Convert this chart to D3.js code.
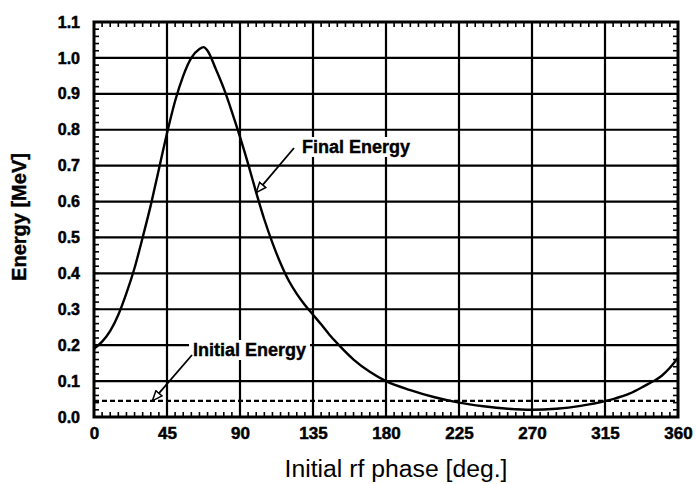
<!DOCTYPE html>
<html>
<head>
<meta charset="utf-8">
<script src="https://cdn.jsdelivr.net/npm/d3@7"></script>
<style>
  body { margin: 0; background: #fff; }
  svg { display: block; font-family: "Liberation Sans", Arial, sans-serif; }
</style>
</head>
<body>
<div id="chart"></div>
<script>
// phase in degrees and final energy in MeV
var phase = [0, 5, 10, 15, 20, 25, 30, 35, 40, 45, 50, 55, 60, 65, 67.5, 70, 75, 80, 85, 90,
             95, 100, 105, 110, 115, 120, 125, 130, 135, 140, 145, 150, 160, 170, 180, 195, 210, 225,
             240, 255, 270, 285, 300, 315, 320, 330, 340, 345, 350, 355, 360]
var finalEnergy = [0.19, 0.21, 0.24, 0.285, 0.345, 0.415, 0.5, 0.59, 0.69, 0.79, 0.88, 0.95, 1.0, 1.025, 1.03, 1.02,
                   0.97, 0.915, 0.85, 0.78, 0.705, 0.625, 0.55, 0.485, 0.428, 0.38, 0.343, 0.312, 0.285, 0.258,
                   0.23, 0.205, 0.16, 0.126, 0.1, 0.075, 0.055, 0.04, 0.03, 0.023, 0.02, 0.023, 0.031, 0.044,
                   0.05, 0.065, 0.088, 0.1, 0.115, 0.137, 0.165]
var initialEnergy = 0.045

var xTicks = [0, 45, 90, 135, 180, 225, 270, 315, 360]
var yTicks = [0, 0.1, 0.2, 0.3, 0.4, 0.5, 0.6, 0.7, 0.8, 0.9, 1.0, 1.1]

var width = 696
var height = 484

var x = d3.scaleLinear().domain([0, 360]).range([94, 678])
var y = d3.scaleLinear().domain([0, 1.1]).range([417, 22])

var svg = d3.select("#chart").append("svg")
    .attr("width", width)
    .attr("height", height)

// grid
svg.append("g").selectAll("line")
    .data(yTicks.slice(1, -1))
    .join("line")
    .attr("x1", x(0)).attr("x2", x(360))
    .attr("y1", d => y(d)).attr("y2", d => y(d))
    .attr("stroke", "#000").attr("stroke-width", 2.2)
svg.append("g").selectAll("line")
    .data(xTicks.slice(1, -1))
    .join("line")
    .attr("y1", y(0)).attr("y2", y(1.1))
    .attr("x1", d => x(d)).attr("x2", d => x(d))
    .attr("stroke", "#000").attr("stroke-width", 2.2)

// initial energy, dashed
svg.append("line")
    .attr("x1", x(0)).attr("x2", x(360))
    .attr("y1", y(initialEnergy)).attr("y2", y(initialEnergy))
    .attr("stroke", "#000").attr("stroke-width", 2.4)
    .attr("stroke-dasharray", "5,3")

// final energy curve
var line = d3.line()
    .x((d, i) => x(phase[i]))
    .y(d => y(d))
    .curve(d3.curveMonotoneX)
svg.append("path")
    .datum(finalEnergy)
    .attr("d", line)
    .attr("fill", "none")
    .attr("stroke", "#000")
    .attr("stroke-width", 2.4)

// frame
svg.append("rect")
    .attr("x", x(0)).attr("y", y(1.1))
    .attr("width", x(360) - x(0)).attr("height", y(0) - y(1.1))
    .attr("fill", "none").attr("stroke", "#000").attr("stroke-width", 3)

// minor ticks inside the frame
var minorX = d3.range(0, 361, 5)
var minorY = d3.range(0, 111, 2).map(d => d / 100)
var ticks = svg.append("g").attr("stroke", "#000").attr("stroke-width", 1.6)
ticks.selectAll(".tb").data(minorX).join("line").attr("class", "tb")
    .attr("x1", d => x(d)).attr("x2", d => x(d))
    .attr("y1", y(1.1)).attr("y2", y(1.1) + 5)
ticks.selectAll(".bt").data(minorX).join("line").attr("class", "bt")
    .attr("x1", d => x(d)).attr("x2", d => x(d))
    .attr("y1", y(0)).attr("y2", y(0) - 5)
ticks.selectAll(".lt").data(minorY).join("line").attr("class", "lt")
    .attr("y1", d => y(d)).attr("y2", d => y(d))
    .attr("x1", x(0)).attr("x2", x(0) + 5)
ticks.selectAll(".rt").data(minorY).join("line").attr("class", "rt")
    .attr("y1", d => y(d)).attr("y2", d => y(d))
    .attr("x1", x(360)).attr("x2", x(360) - 5)

// tick labels
var xAxis = svg.append("g")
    .attr("transform", "translate(0," + 424 + ")")
    .call(d3.axisBottom(x).tickValues(xTicks).tickSize(0).tickFormat(d3.format("d")))
xAxis.select(".domain").remove()
xAxis.selectAll("text")
    .attr("font-family", "'Liberation Sans', Arial, sans-serif")
    .attr("font-size", 17).attr("font-weight", "bold").attr("fill", "#000")
    .attr("stroke", "#000").attr("stroke-width", 0.5)

var yAxis = svg.append("g")
    .attr("transform", "translate(" + 83 + ",0)")
    .call(d3.axisLeft(y).tickValues(yTicks).tickSize(0).tickFormat(d3.format(".1f")))
yAxis.select(".domain").remove()
yAxis.selectAll("text")
    .attr("font-family", "'Liberation Sans', Arial, sans-serif")
    .attr("font-size", 16).attr("font-weight", "bold").attr("fill", "#000")
    .attr("stroke", "#000").attr("stroke-width", 0.5)

// axis titles
svg.append("text")
    .attr("x", 396).attr("y", 477)
    .attr("text-anchor", "middle")
    .attr("font-size", 23)
    .attr("textLength", 223).attr("lengthAdjust", "spacingAndGlyphs")
    .text("Initial rf phase [deg.]")
svg.append("text")
    .attr("transform", "translate(26,217) rotate(-90)")
    .attr("text-anchor", "middle")
    .attr("font-size", 20).attr("font-weight", "bold")
    .attr("stroke", "#000").attr("stroke-width", 0.4)
    .text("Energy [MeV]")

// annotations
svg.append("defs").append("marker")
    .attr("id", "head")
    .attr("viewBox", "0 0 12 10")
    .attr("refX", 11).attr("refY", 5)
    .attr("markerWidth", 12).attr("markerHeight", 10)
    .attr("markerUnits", "userSpaceOnUse")
    .attr("orient", "auto")
    .append("path")
    .attr("d", "M1,1 L11,5 L1,9 Z")
    .attr("fill", "#fff").attr("stroke", "#000").attr("stroke-width", 1.5)

function annotate(label, tx, ty, fromX, fromY, tipPhase, tipEnergy) {
    var t = svg.append("text")
        .attr("x", tx).attr("y", ty)
        .attr("font-size", 18).attr("font-weight", "bold")
        .attr("stroke", "#000").attr("stroke-width", 0.4)
        .text(label)
    var b = t.node().getBBox()
    svg.insert("rect", function () { return t.node() })
        .attr("x", b.x - 4).attr("y", b.y)
        .attr("width", b.width + 8).attr("height", b.height)
        .attr("fill", "#fff")
    svg.append("line")
        .attr("x1", fromX).attr("y1", fromY)
        .attr("x2", x(tipPhase)).attr("y2", y(tipEnergy))
        .attr("stroke", "#000").attr("stroke-width", 1.8)
        .attr("marker-end", "url(#head)")
}

annotate("Final Energy", 302, 153, 294, 148, 100, 0.625)
annotate("Initial Energy", 193, 356, 192, 355, 36, initialEnergy)
</script>
</body>
</html>
